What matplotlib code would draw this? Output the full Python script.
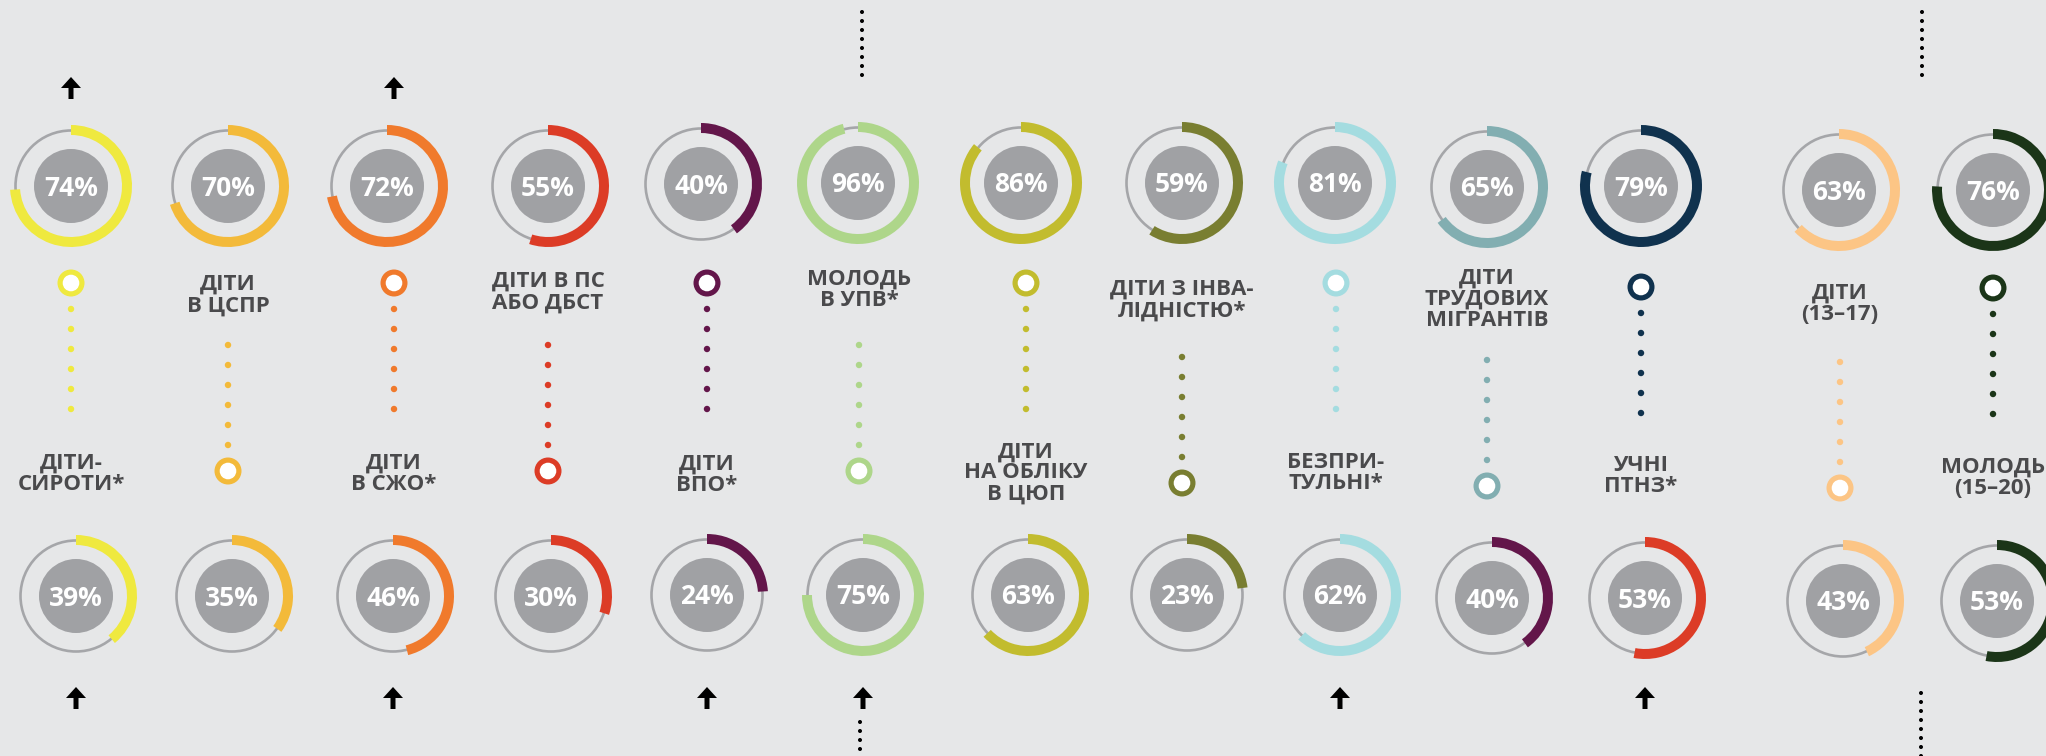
import numpy as np
import matplotlib.pyplot as plt
from matplotlib.patches import Wedge, Circle, FancyArrow

# --- data ---
labels = ['ДІТИ-\nСИРОТИ*', 'ДІТИ\nВ ЦСПР', 'ДІТИ\nВ СЖО*', 'ДІТИ В ПС\nАБО ДБСТ',
          'ДІТИ\nВПО*', 'МОЛОДЬ\nВ УПВ*', 'ДІТИ\nНА ОБЛІКУ\nВ ЦЮП', 'ДІТИ З ІНВА-\nЛІДНІСТЮ*',
          'БЕЗПРИ-\nТУЛЬНІ*', 'ДІТИ\nТРУДОВИХ\nМІГРАНТІВ', 'УЧНІ\nПТНЗ*', 'ДІТИ\n(13–17)',
          'МОЛОДЬ\n(15–20)']
top_pct = [74, 70, 72, 55, 40, 96, 86, 59, 81, 65, 79, 63, 76]
bottom_pct = [39, 35, 46, 30, 24, 75, 63, 23, 62, 40, 53, 43, 53]
top_up = [0, 2]                      # columns with an arrow above
bottom_up = [0, 2, 4, 5, 8, 10]      # columns with an arrow below

# --- colours ---
top_colors = ['#EFE93F', '#F3BA3A', '#F07A2C', '#DC3C26', '#63164A', '#AED68A', '#C2BC2E',
              '#797E31', '#A4DCE0', '#82AEB1', '#10324E', '#FCC585', '#1B3518']
bottom_colors = ['#EFE93F', '#F3BA3A', '#F07A2C', '#DC3C26', '#63164A', '#AED68A', '#C2BC2E',
                 '#797E31', '#A4DCE0', '#63164A', '#DC3C26', '#FCC585', '#1B3518']
BG = '#E6E7E8'
RING = '#A5A6A9'
DISK = '#A0A1A4'
TXT = '#4A4A4C'

# --- layout (pixels) ---
top_x = [71, 228, 387, 548, 701, 858, 1021, 1182, 1335, 1487, 1641, 1839, 1993]
top_y = [186, 186, 186, 186, 184, 183, 183, 183, 183, 187, 186, 190, 190]
bot_x = [76, 232, 393, 551, 707, 863, 1028, 1187, 1340, 1492, 1645, 1843, 1997]
bot_y = [596, 596, 596, 596, 595, 595, 595, 595, 595, 598, 598, 601, 601]
mid_x = [71, 228, 394, 548, 707, 859, 1026, 1182, 1336, 1487, 1641, 1840, 1993]
marker_y = [283, 471, 283, 471, 283, 471, 283, 483, 283, 486, 287, 488, 288]
label_y = [474, 295, 474, 292, 475, 290, 473, 300, 473, 299, 476, 304, 478]

fig = plt.figure(figsize=(20.46, 7.56), dpi=100)
fig.patch.set_facecolor(BG)
ax = fig.add_axes([0, 0, 1, 1])
ax.set_facecolor(BG)
ax.set_xlim(0, 2046)
ax.set_ylim(756, 0)
ax.set_aspect('equal')
ax.axis('off')


def donut(x, y, pct, color):
    ax.add_patch(Circle((x, y), 55.5, fill=False, ec=RING, lw=1.9))
    ax.add_patch(Wedge((x, y), 61, -90, -90 + 3.6 * pct, width=10, color=color, lw=0))
    ax.add_patch(Circle((x, y), 37, color=DISK, lw=0))
    ax.text(x, y + 9.5, f'{pct}%', ha='center', va='baseline', color='white',
            fontsize=19, fontweight='bold', family='Open Sans')


for i in range(len(labels)):
    donut(top_x[i], top_y[i], top_pct[i], top_colors[i])
    donut(bot_x[i], bot_y[i], bottom_pct[i], bottom_colors[i])

    mx, my = mid_x[i], marker_y[i]
    ax.add_patch(Circle((mx, my), 13.5, color=top_colors[i], lw=0))
    ax.add_patch(Circle((mx, my), 8.3, color='white', lw=0))
    step = 20 if i % 2 == 0 else -20
    for k in range(6):
        dy = my + np.sign(step) * 26 + step * k
        ax.add_patch(Circle((mx, dy), 3.2, color=top_colors[i], lw=0))

    ax.text(mx, label_y[i], labels[i], ha='center', va='center', color=TXT,
            fontsize=16, fontweight='bold', family='Open Sans', linespacing=1.02,
            multialignment='center')


def arrow_up(x, ybot):
    ax.add_patch(FancyArrow(x, ybot, 0, -22, width=5, head_width=20, head_length=11,
                            length_includes_head=True, color='black', lw=0))


for i in top_up:
    arrow_up(mid_x[i], 99)
for i in bottom_up:
    arrow_up(bot_x[i], 709)

# black dotted separators
for x, y0, n in [(862, 12, 8), (1922, 12, 8), (860, 722, 5), (1921, 693, 8)]:
    for k in range(n):
        ax.add_patch(Circle((x, y0 + 9 * k), 2, color='black', lw=0))

fig.savefig('out.png', dpi=100, facecolor=BG)
